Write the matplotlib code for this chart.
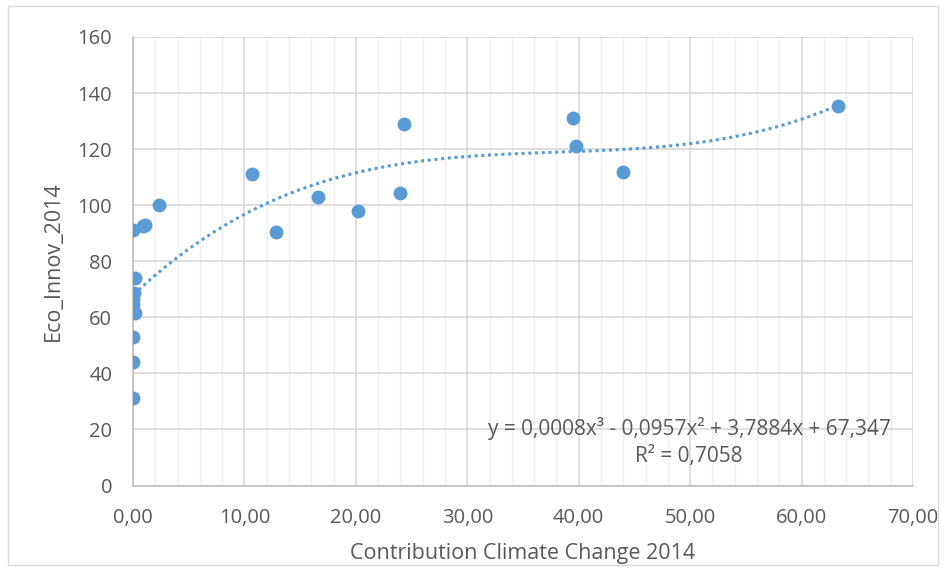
import matplotlib
matplotlib.use("Agg")
import matplotlib.pyplot as plt
import numpy as np
from matplotlib.ticker import MultipleLocator, FuncFormatter
from matplotlib.patches import Rectangle

plt.rcParams['font.family'] = ['Open Sans', 'DejaVu Sans']

contribution = [0.0, 0.0, 0.0, 0.2, 0.0, 0.0, 0.1, 0.2, 0.0, 0.9, 1.1, 2.3,
                10.7, 12.8, 16.6, 20.2, 24.0, 24.3, 39.5, 39.8, 44.0, 63.3]
eco_innov = [31.1, 43.9, 53.1, 61.5, 64.8, 66.5, 68.5, 74.2, 91.0, 92.4, 93.0, 100.2,
             111.3, 90.3, 102.9, 98.0, 104.3, 129.0, 131.0, 121.2, 112.0, 135.3]
equation_text = "y = 0,0008x³ - 0,0957x² + 3,7884x + 67,347\nR² = 0,7058"

blue = "#5B9BD5"
txt = "#595959"

fig = plt.figure(figsize=(9.44, 5.69), dpi=100)
fig.patches.append(Rectangle((8/944, 1-565/569), 930/944, 559/569, transform=fig.transFigure,
                             fill=False, edgecolor="#D9D9D9", linewidth=1.0))
ax = fig.add_axes([133/944, 1-485.5/569, 780/944, 448.5/569])

ax.set_xlim(0, 70)
ax.set_ylim(0, 160)
ax.xaxis.set_major_locator(MultipleLocator(10))
ax.xaxis.set_minor_locator(MultipleLocator(2))
ax.yaxis.set_major_locator(MultipleLocator(20))
ax.xaxis.set_major_formatter(FuncFormatter(lambda v, p: f"{v:.2f}".replace(".", ",")))
ax.yaxis.set_major_formatter(FuncFormatter(lambda v, p: f"{v:.0f}"))

ax.grid(which="major", color="#D9D9D9", linewidth=1.2, zorder=0)
ax.grid(which="minor", axis="x", color="#EFEFEF", linewidth=1.0, zorder=0)
ax.set_axisbelow(True)
for s in ["top", "right"]:
    ax.spines[s].set_visible(False)
for s in ["left", "bottom"]:
    ax.spines[s].set_color("#BFBFBF")
    ax.spines[s].set_linewidth(1.2)
ax.tick_params(which="both", length=0, labelsize=14.5, colors=txt)
ax.tick_params(axis="x", pad=16)
ax.tick_params(axis="y", pad=15)

coeffs = np.polyfit(contribution, eco_innov, 3)
xs = np.linspace(0.5, max(contribution), 300)
ax.plot(xs, np.polyval(coeffs, xs), color=blue, linestyle=(0, (1, 1.2)),
        linewidth=2.2, zorder=2)
ax.scatter(contribution, eco_innov, s=100, color=blue, zorder=3, linewidths=0)

ax.text(689/944, 1-442/569, equation_text, transform=fig.transFigure, ha="center",
        va="center", fontsize=15, color=txt, linespacing=1.4)

ax.set_xlabel("Contribution Climate Change 2014", fontsize=15.5, color=txt, va="center")
ax.set_ylabel("Eco_Innov_2014", fontsize=15.5, color=txt, va="center")
ax.xaxis.set_label_coords(523/944, 1-554/569, transform=fig.transFigure)
ax.yaxis.set_label_coords(53/944, 1-261/569, transform=fig.transFigure)

fig.savefig("out.png", dpi=100)
